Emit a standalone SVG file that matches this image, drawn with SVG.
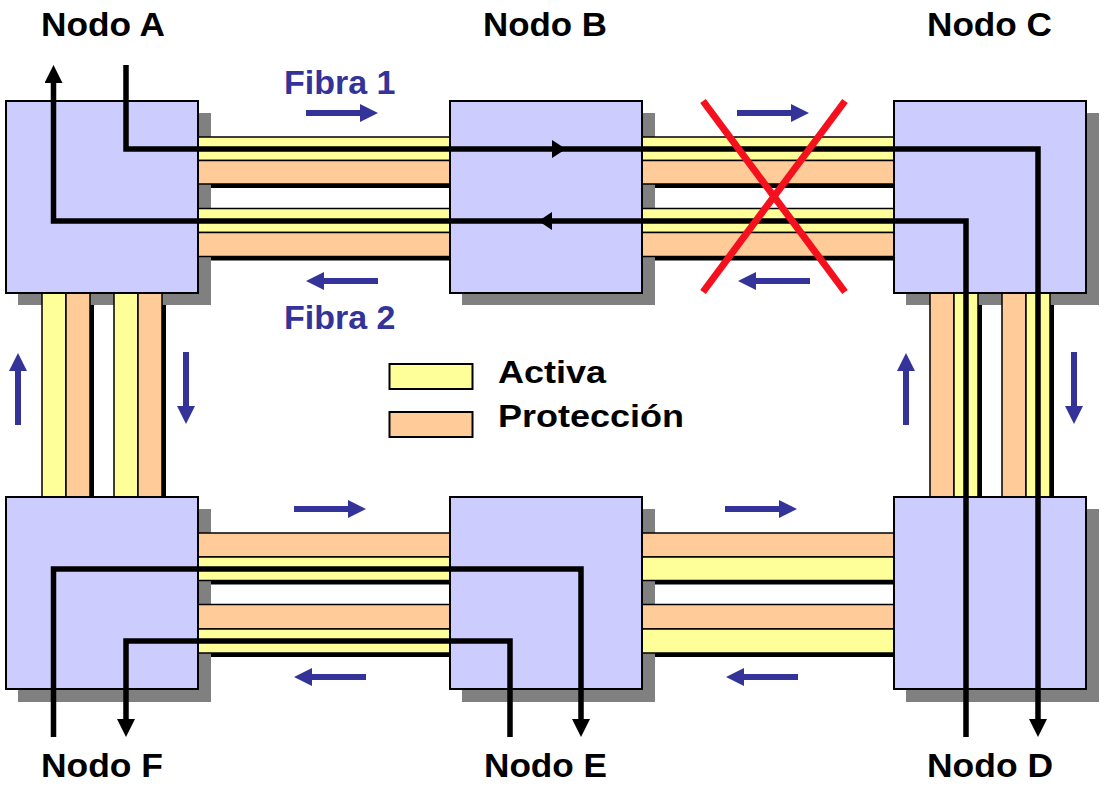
<svg xmlns="http://www.w3.org/2000/svg" xmlns:xlink="http://www.w3.org/1999/xlink" width="1114" height="792" viewBox="0 0 1114 792">
<style>
.node{fill:#ccccff;stroke:#000;stroke-width:2}
.shadow{fill:#808080}
.act{fill:#ffff99;stroke:#000;stroke-width:1.5}
.prot{fill:#ffcc99;stroke:#000;stroke-width:1.5}
.fsh{fill:#000}
.conn{fill:none;stroke:#000;stroke-width:5.5;stroke-linejoin:miter;stroke-linecap:butt}
.blue{fill:#333399}
.lbl{font-family:"Liberation Sans",Arial,sans-serif;font-weight:bold;font-size:33px;fill:#000}
.fib{font-family:"Liberation Sans",Arial,sans-serif;font-weight:bold;font-size:34px;fill:#333399}
.leg{font-family:"Liberation Sans",Arial,sans-serif;font-weight:bold;font-size:31px;fill:#000}
.cross{stroke:#f5101e;stroke-width:7;stroke-linecap:butt}
</style>
<defs>
<path id="barr" d="M-72,-3 H-18 V-9 L0,0 L-18,9 V3 H-72 Z"/>
<marker id="ah" markerUnits="userSpaceOnUse" markerWidth="18" markerHeight="18" viewBox="0 0 18 18" refX="0" refY="9" orient="auto">
<path d="M0,0 L18,9 L0,18 Z" fill="#000"/>
</marker>
</defs>

<!-- fiber shadows -->
<g id="fiber-shadows" class="fsh">
<rect x="202" y="141" width="252" height="47"/>
<rect x="202" y="212.5" width="252" height="48"/>
<rect x="646" y="141" width="252" height="47"/>
<rect x="646" y="212.5" width="252" height="48"/>
<rect x="202" y="537" width="252" height="47.5"/>
<rect x="202" y="608.5" width="252" height="48.5"/>
<rect x="646" y="537" width="252" height="47.5"/>
<rect x="646" y="608.5" width="252" height="48.5"/>
<rect x="46" y="297" width="48" height="204"/>
<rect x="118" y="297" width="48" height="204"/>
<rect x="934" y="297" width="48" height="204"/>
<rect x="1006" y="297" width="48" height="204"/>
</g>

<!-- node shadows -->
<g id="node-shadows" class="shadow">
<rect x="18" y="113" width="193" height="192"/>
<rect x="462" y="113" width="193" height="192"/>
<rect x="906" y="113" width="193" height="192"/>
<rect x="18" y="509" width="193" height="193"/>
<rect x="462" y="509" width="193" height="193"/>
<rect x="906" y="509" width="193" height="193"/>
</g>

<!-- fibers -->
<g id="fibers">
<rect class="act" x="196" y="137" width="256" height="23.5"/>
<rect class="prot" x="196" y="160.5" width="256" height="23.5"/>
<rect class="act" x="196" y="208.5" width="256" height="24"/>
<rect class="prot" x="196" y="232.5" width="256" height="24"/>
<rect class="act" x="640" y="137" width="256" height="23.5"/>
<rect class="prot" x="640" y="160.5" width="256" height="23.5"/>
<rect class="act" x="640" y="208.5" width="256" height="24"/>
<rect class="prot" x="640" y="232.5" width="256" height="24"/>

<rect class="prot" x="196" y="533" width="256" height="24"/>
<rect class="act" x="196" y="557" width="256" height="23.5"/>
<rect class="prot" x="196" y="604.5" width="256" height="24.5"/>
<rect class="act" x="196" y="629" width="256" height="24"/>
<rect class="prot" x="640" y="533" width="256" height="24"/>
<rect class="act" x="640" y="557" width="256" height="23.5"/>
<rect class="prot" x="640" y="604.5" width="256" height="24.5"/>
<rect class="act" x="640" y="629" width="256" height="24"/>

<rect class="act" x="42" y="291" width="24" height="208"/>
<rect class="prot" x="66" y="291" width="24" height="208"/>
<rect class="act" x="114" y="291" width="24" height="208"/>
<rect class="prot" x="138" y="291" width="24" height="208"/>
<rect class="prot" x="930" y="291" width="24" height="208"/>
<rect class="act" x="954" y="291" width="24" height="208"/>
<rect class="prot" x="1002" y="291" width="24" height="208"/>
<rect class="act" x="1026" y="291" width="24" height="208"/>
</g>

<!-- nodes -->
<g id="node-a"><rect class="node" x="6" y="101" width="192" height="192"/><text class="lbl" x="41" y="36" textLength="124" lengthAdjust="spacingAndGlyphs">Nodo A</text></g>
<g id="node-b"><rect class="node" x="450" y="101" width="192" height="192"/><text class="lbl" x="483" y="36" textLength="124" lengthAdjust="spacingAndGlyphs">Nodo B</text></g>
<g id="node-c"><rect class="node" x="894" y="101" width="192" height="192"/><text class="lbl" x="927" y="36" textLength="125" lengthAdjust="spacingAndGlyphs">Nodo C</text></g>
<g id="node-f"><rect class="node" x="6" y="497" width="192" height="192"/><text class="lbl" x="41" y="777" textLength="122" lengthAdjust="spacingAndGlyphs">Nodo F</text></g>
<g id="node-e"><rect class="node" x="450" y="497" width="192" height="192"/><text class="lbl" x="484" y="777" textLength="123" lengthAdjust="spacingAndGlyphs">Nodo E</text></g>
<g id="node-d"><rect class="node" x="894" y="497" width="192" height="192"/><text class="lbl" x="927" y="777" textLength="126" lengthAdjust="spacingAndGlyphs">Nodo D</text></g>

<!-- connectors -->
<g id="connectors">
<path class="conn" d="M126,65 V149 H1038 V719" marker-end="url(#ah)"/>
<path class="conn" d="M966,737 V221 H53.5 V83" marker-end="url(#ah)"/>
<path class="conn" d="M53.5,737 V569 H581 V719" marker-end="url(#ah)"/>
<path class="conn" d="M510,737 V641 H126 V719" marker-end="url(#ah)"/>
<path d="M552,140 L566,149 L552,158 Z" fill="#000"/>
<path d="M552,212 L538.5,221 L552,230 Z" fill="#000"/>
</g>

<!-- failure cross -->
<g id="failure">
<line class="cross" x1="703" y1="101" x2="845" y2="292"/>
<line class="cross" x1="845" y1="101" x2="703" y2="292"/>
</g>

<!-- direction arrows -->
<g id="direction-arrows" class="blue">
<use xlink:href="#barr" transform="translate(378,113)"/>
<use xlink:href="#barr" transform="translate(809,113)"/>
<use xlink:href="#barr" transform="translate(366,509)"/>
<use xlink:href="#barr" transform="translate(797,509)"/>
<use xlink:href="#barr" transform="translate(306,281) rotate(180)"/>
<use xlink:href="#barr" transform="translate(738,281) rotate(180)"/>
<use xlink:href="#barr" transform="translate(294,677) rotate(180)"/>
<use xlink:href="#barr" transform="translate(726,677) rotate(180)"/>
<use xlink:href="#barr" transform="translate(18,353) rotate(-90)"/>
<use xlink:href="#barr" transform="translate(906,353) rotate(-90)"/>
<use xlink:href="#barr" transform="translate(186,424) rotate(90)"/>
<use xlink:href="#barr" transform="translate(1074,424) rotate(90)"/>
</g>

<g id="fiber-labels">
<text class="fib" x="284" y="94">Fibra 1</text>
<text class="fib" x="284" y="329">Fibra 2</text>
</g>

<!-- legend -->
<g id="legend">
<rect class="act" x="389.5" y="364" width="83" height="25" style="stroke-width:2"/>
<rect class="prot" x="389.5" y="412" width="83" height="25" style="stroke-width:2"/>
<text class="leg" x="498" y="383" textLength="108" lengthAdjust="spacingAndGlyphs">Activa</text>
<text class="leg" x="498" y="427" textLength="186" lengthAdjust="spacingAndGlyphs">Protección</text>
</g>
</svg>
